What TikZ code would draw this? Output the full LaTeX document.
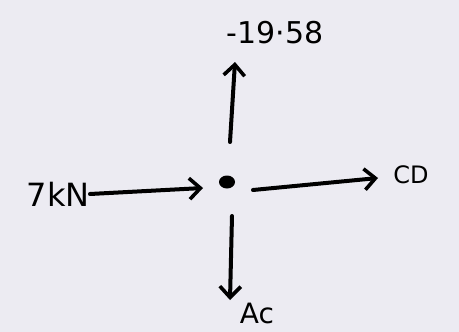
\documentclass[tikz,border=0pt]{standalone}
\usepackage{fontspec}
\setmainfont{DejaVu Sans}
\usetikzlibrary{arrows.meta,shapes.geometric}
\definecolor{paper}{RGB}{236,235,242}
\begin{document}
\begin{tikzpicture}[x=1pt,y=-1pt,
  force/.style={line width=4pt,line cap=round,-{Straight Barb[length=11pt,width=21pt,line width=3.6pt]}},
  lbl/.style={inner sep=0pt}]
\fill[paper] (0,0) rectangle (459,332);
\useasboundingbox (0,0) rectangle (459,332);
\node[ellipse,fill=black,minimum width=16pt,minimum height=13pt,inner sep=0pt] (dot) at (227,182) {};
\node[lbl,font=\fontsize{30}{32}\selectfont] (top) at (275,33) {-19·58};
\node[lbl,anchor=east,font=\fontsize{32}{34}\selectfont] (left) at (90,194) {7kN};
\node[lbl,font=\fontsize{24}{26}\selectfont] (right) at (411,175) {CD};
\node[lbl,font=\fontsize{28}{30}\selectfont] (bottom) at (257,313) {Ac};
\coordinate (upS) at (230,142);
\coordinate (upE) at (235,62);
\coordinate (dnS) at (232,216);
\coordinate (dnE) at (230,300);
\coordinate (rS) at (253,190);
\coordinate (rE) at (378,178);
\coordinate (lE) at (203,188);
\draw[force] (upS) -- (upE);
\draw[force] (dnS) -- (dnE);
\draw[force] (left.east) -- (lE);
\draw[force] (rS) -- (rE);
\end{tikzpicture}
\end{document}
